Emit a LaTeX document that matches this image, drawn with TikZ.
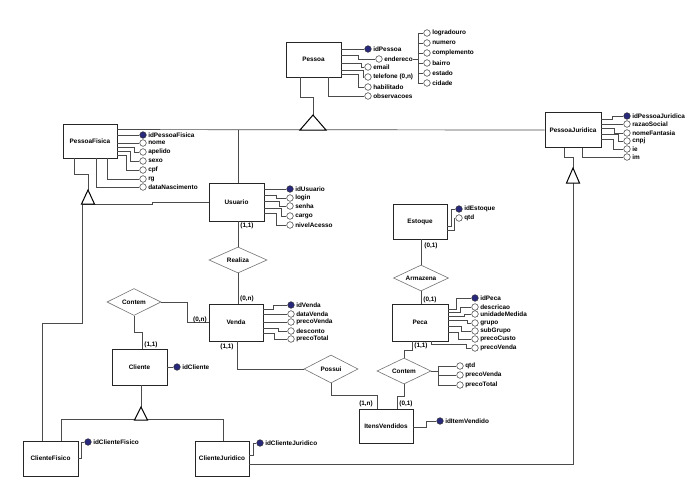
\documentclass[tikz,border=0pt]{standalone}
\usepackage{fontspec}
\setmainfont{Liberation Sans}
\usetikzlibrary{shapes.geometric,calc}
\definecolor{idblue}{RGB}{40,40,125}
\definecolor{lngray}{RGB}{75,75,75}
\newcommand\fs{\fontsize{6.4}{7}\selectfont\bfseries}
\tikzset{
 ent/.style={draw=black!85, line width=0.9pt, fill=white, inner sep=0, font=\fs},
 rel/.style={diamond, aspect=2, draw=black!55, line width=0.6pt, fill=white, inner sep=0, font=\fs},
 attr/.style={circle, draw=black!80, line width=0.5pt, fill=white, minimum size=6.6pt, inner sep=0},
 key/.style={attr, fill=idblue},
 ln/.style={draw=lngray, line width=0.7pt},
 card/.style={font=\fs, inner sep=0},
 gentri/.style={draw=black, line width=1pt, fill=white, line join=miter},
 every label/.style={font=\fs, inner sep=0.3pt},
}
\begin{document}
\begin{tikzpicture}[x=1pt,y=-1pt,label distance=1.2pt]
\useasboundingbox (0,0) rectangle (690,480);
% entities
\node[ent, minimum width=55pt, minimum height=35pt] (Pessoa) at (313.5,59.5) {Pessoa};
\node[ent, minimum width=54pt, minimum height=34pt] (PessoaFisica) at (90,141) {PessoaFisica};
\node[ent, minimum width=56pt, minimum height=35pt] (PessoaJuridica) at (573,130) {PessoaJuridica};
\node[ent, minimum width=55pt, minimum height=38pt] (Usuario) at (236.5,202) {Usuario};
\node[ent, minimum width=54pt, minimum height=35pt] (Estoque) at (420,221.5) {Estoque};
\node[ent, minimum width=54pt, minimum height=37pt] (Venda) at (236,322.5) {Venda};
\node[ent, minimum width=56pt, minimum height=37pt] (Peca) at (420,322.5) {Peca};
\node[ent, minimum width=55pt, minimum height=36pt] (Cliente) at (139.5,367) {Cliente};
\node[ent, minimum width=54pt, minimum height=34pt] (ItensVendidos) at (386,426) {ItensVendidos};
\node[ent, minimum width=55pt, minimum height=35pt] (ClienteFisico) at (50.5,458.5) {ClienteFisico};
\node[ent, minimum width=54pt, minimum height=35pt] (ClienteJuridico) at (222,458.5) {ClienteJuridico};
% relationships
\node[rel, minimum width=58pt, minimum height=26pt] (Realiza) at (238,260) {Realiza};
\node[rel, minimum width=54pt, minimum height=27pt] (Contem1) at (134,302) {Contem};
\node[rel, minimum width=54pt, minimum height=28pt] (Possui) at (331,369) {Possui};
\node[rel, minimum width=55pt, minimum height=26pt] (Armazena) at (421,278) {Armazena};
\node[rel, minimum width=54pt, minimum height=26pt] (Contem2) at (404,371) {Contem};
% generalisation triangles (coordinates)
\coordinate (tPa) at (313,115); \coordinate (tPb) at (313,130);
\coordinate (tFa) at (88,190); \coordinate (tFl) at (82,204);
\coordinate (tJa) at (573,168); \coordinate (tJb) at (573,183);
\coordinate (tCa) at (141,407);
% relationship connectors
\draw[ln] (Realiza.north |- Usuario.south) -- (Realiza.north);
\draw[ln] (Realiza.south) -- (Realiza.south |- Venda.north);
\draw[ln] (Contem1.east) -| (187,322.5) -- (Venda.west);
\draw[ln] (Contem1.south) |- (142,332) -- ($(Cliente.north)+(2.5,0)$);
\draw[ln] ($(Venda.south)+(1,0)$) |- (Possui.west);
\draw[ln] (Possui.south) |- ($(ItensVendidos.north)+(-9,-13)$) -- ($(ItensVendidos.north)+(-9,0)$);
\draw[ln] (Contem2.south) |- ($(ItensVendidos.north)+(11,-12)$) -- ($(ItensVendidos.north)+(11,0)$);
\draw[ln] (Contem2.north) |- ($(Peca.south)+(-8,9)$) -- ($(Peca.south)+(-8,0)$);
\draw[ln] (Armazena.north |- Estoque.south) -- (Armazena.north);
\draw[ln] (Armazena.south) -- (Armazena.south |- Peca.north);
% generalisation connectors
\draw[ln] ($(Pessoa.south)+(-13.5,0)$) |- ($(tPa)+(0,-18)$) -- (tPa);
\draw[ln] ($(PessoaFisica.north east)+(0,6)$) -- (PessoaJuridica.west);
\draw[ln] (Realiza.north |- tPb) -- (Realiza.north |- Usuario.north);
\draw[ln] ($(PessoaFisica.south)+(-16,0)$) |- ($(tFa)+(0,-16)$) -- (tFa);
\draw[ln] (tFl) -- (152,204) |- (Usuario.west);
\draw[ln] (tFl) |- (42,323) -- ($(ClienteFisico.north)+(-8.5,0)$);
\draw[ln] ($(PessoaJuridica.south)+(-9,0)$) |- ($(tJa)+(0,-11)$) -- (tJa);
\draw[ln] (tJb) |- ($(ClienteJuridico.east)+(0,6)$);
\draw[ln] ($(Cliente.south)+(1.5,0)$) -- (tCa);
\draw[ln] ($(ClienteFisico.north)+(10.5,0)$) |- ($(ClienteJuridico.north)+(1,-21)$) -- ($(ClienteJuridico.north)+(1,0)$);
% triangles
\draw[gentri] (tPa) -- ++(13,15) -- ++(-26,0) -- cycle;
\draw[gentri] (tFa) -- ++(6.5,14) -- ++(-13,0) -- cycle;
\draw[gentri] (tJa) -- ++(6.5,15) -- ++(-13,0) -- cycle;
\draw[gentri] (tCa) -- ++(6.5,13) -- ++(-13,0) -- cycle;
% cardinalities
\node[card] (c1) at (247,226) {(1,1)};
\node[card] (c2) at (247,299) {(0,n)};
\node[card] (c3) at (200,320) {(0,n)};
\node[card] (c4) at (227,347) {(1,1)};
\node[card] (c5) at (151,345) {(1,1)};
\node[card] (c6) at (366,404) {(1,n)};
\node[card] (c7) at (406,404) {(0,1)};
\node[card] (c8) at (421,346) {(1,1)};
\node[card] (c9) at (430,300) {(0,1)};
\node[card] (c10) at (431,246) {(0,1)};
% Pessoa attributes
\node[key,label=right:idPessoa] (aIdP) at (368,49) {};
\node[attr,label={[name=lEnd]right:endereco}] (aEnd) at (379,59) {};
\node[attr,label=right:email] (aEmail) at (368,67) {};
\node[attr,label=right:{telefone (0,n)}] (aTel) at (368,77) {};
\node[attr,label=right:habilitado] (aHab) at (368,87) {};
\node[attr,label=right:observacoes] (aObs) at (368,96) {};
\draw[ln] (Pessoa.east |- aIdP) -- (aIdP);
\draw[ln] (Pessoa.east |- 0,55) -- (358,55) |- (aEnd);
\draw[ln] (Pessoa.east |- 0,63) -- (361,63) |- (aEmail);
\draw[ln] (Pessoa.east |- 0,70) -- (363,70) |- (aTel);
\draw[ln] (Pessoa.east |- 0,74) -- (358,74) |- (aHab);
\draw[ln] (Pessoa.south -| 328,0) |- (aObs);
% endereco parts
\node[attr,label=right:logradouro] (aLog) at (427,33) {};
\node[attr,label=right:numero] (aNum) at (427,43) {};
\node[attr,label=right:complemento] (aComp) at (427,53) {};
\node[attr,label=right:bairro] (aBai) at (427,63) {};
\node[attr,label=right:estado] (aEst) at (427,73) {};
\node[attr,label=right:cidade] (aCid) at (427,83) {};
\coordinate (brE) at (418,59);
\draw[ln] (lEnd.east) -- (brE);
\draw[ln] (brE |- aLog) -- (brE |- aCid);
\foreach \nm in {aLog,aNum,aComp,aBai,aEst,aCid} \draw[ln] (brE |- \nm) -- (\nm);
% PessoaFisica attributes
\node[key,label=right:idPessoaFisica] (aIdPF) at (143,135) {};
\node[attr,label=right:nome] (aNome) at (143,143) {};
\node[attr,label=right:apelido] (aApel) at (143,152) {};
\node[attr,label=right:sexo] (aSexo) at (143,161) {};
\node[attr,label=right:cpf] (aCpf) at (143,170) {};
\node[attr,label=right:rg] (aRg) at (143,179) {};
\node[attr,label=right:dataNascimento] (aDN) at (143,187) {};
\draw[ln] (PessoaFisica.east |- aIdPF) -- (aIdPF);
\draw[ln] (PessoaFisica.east |- aNome) -- (aNome);
\draw[ln] (PessoaFisica.east |- 0,147) -- (134,147) |- (aApel);
\draw[ln] (PessoaFisica.east |- 0,151) -- (130,151) |- (aSexo);
\draw[ln] (PessoaFisica.east |- 0,155) -- (126,155) |- (aCpf);
\draw[ln] (PessoaFisica.south -| 107,0) |- (aRg);
\draw[ln] (PessoaFisica.south -| 96,0) |- (aDN);
% PessoaJuridica attributes
\node[key,label=right:idPessoaJuridica] (aIdPJ) at (627,116) {};
\node[attr,label=right:razaoSocial] (aRazao) at (627,124) {};
\node[attr,label=right:nomeFantasia] (aNF) at (627,133) {};
\node[attr,label=right:cnpj] (aCnpj) at (627,141) {};
\node[attr,label=right:ie] (aIe) at (627,149) {};
\node[attr,label=right:im] (aIm) at (627,157) {};
\draw[ln] (PessoaJuridica.east |- 0,119) -- (612,119) |- (aIdPJ);
\draw[ln] (PessoaJuridica.east |- aRazao) -- (aRazao);
\draw[ln] (PessoaJuridica.east |- 0,128) -- (614,128) |- (aNF);
\draw[ln] (PessoaJuridica.east |- 0,134) -- (618,134) |- (aCnpj);
\draw[ln] (PessoaJuridica.east |- 0,139) -- (613,139) |- (aIe);
\draw[ln] (PessoaJuridica.south -| 582,0) |- (aIm);
% Usuario attributes
\node[key,label=right:idUsuario] (aIdU) at (290,189) {};
\node[attr,label=right:login] (aLogin) at (290,198) {};
\node[attr,label=right:senha] (aSenha) at (290,206) {};
\node[attr,label=right:cargo] (aCargo) at (290,216) {};
\node[attr,label=right:nivelAcesso] (aNivel) at (290,225) {};
\draw[ln] (Usuario.east |- aIdU) -- (aIdU);
\draw[ln] (Usuario.east |- 0,195) -- (276,195) |- (aLogin);
\draw[ln] (Usuario.east |- 0,201) -- (279,201) |- (aSenha);
\draw[ln] (Usuario.east |- 0,208) -- (281,208) |- (aCargo);
\draw[ln] (Usuario.east |- 0,213) -- (276,213) |- (aNivel);
% Estoque attributes
\node[key,label=right:idEstoque] (aIdE) at (459,209) {};
\node[attr,label=right:qtd] (aQtdE) at (459,218) {};
\draw[ln] (Estoque.east |- 0,226) -- (451,226) |- (aIdE);
\draw[ln] (Estoque.east |- 0,230) -- (454,230) |- (aQtdE);
% Venda attributes
\node[key,label=right:idVenda] (aIdV) at (291,305) {};
\node[attr,label=right:dataVenda] (aDataV) at (291,314) {};
\node[attr,label=right:precoVenda] (aPVV) at (291,322) {};
\node[attr,label=right:desconto] (aDesc) at (291,331) {};
\node[attr,label=right:precoTotal] (aPTV) at (291,339) {};
\draw[ln] (Venda.east |- 0,309) -- (273,309) |- (aIdV);
\draw[ln] (Venda.east |- aDataV) -- (aDataV);
\draw[ln] (Venda.east |- aPVV) -- (aPVV);
\draw[ln] (Venda.east |- 0,328) -- (278,328) |- (aDesc);
\draw[ln] (Venda.east |- 0,333) -- (274,333) |- (aPTV);
% Peca attributes
\node[key,label=right:idPeca] (aIdPc) at (475,298) {};
\node[attr,label=right:descricao] (aDescr) at (475,307) {};
\node[attr,label=right:unidadeMedida] (aUM) at (475,314) {};
\node[attr,label=right:grupo] (aGrupo) at (475,323) {};
\node[attr,label=right:subGrupo] (aSubG) at (475,331) {};
\node[attr,label=right:precoCusto] (aPCusto) at (475,339) {};
\node[attr,label=right:precoVenda] (aPVPc) at (475,348) {};
\draw[ln] (Peca.east |- 0,309) -- (456,309) |- (aIdPc);
\draw[ln] (Peca.east |- 0,312) -- (460,312) |- (aDescr);
\draw[ln] (Peca.east |- 0,316) -- (464,316) |- (aUM);
\draw[ln] (Peca.east |- 0,320) -- (467,320) |- (aGrupo);
\draw[ln] (Peca.east |- 0,326) -- (461,326) |- (aSubG);
\draw[ln] (Peca.east |- 0,332) -- (458,332) |- (aPCusto);
\draw[ln] (Peca.south -| 431,0) |- (466,344) |- (aPVPc);
% Contem (right) attributes
\node[attr,label=right:qtd] (aQtdC) at (460,366) {};
\node[attr,label=right:precoVenda] (aPVC) at (460,375) {};
\node[attr,label=right:precoTotal] (aPTC) at (460,385) {};
\coordinate (brC) at (438,371);
\draw[ln] (Contem2.east) -- (brC);
\draw[ln] (brC |- aQtdC) -- (brC |- aPTC);
\foreach \nm in {aQtdC,aPVC,aPTC} \draw[ln] (brC |- \nm) -- (\nm);
% Cliente family attributes
\node[key,label=right:idCliente] (aIdC) at (177,367) {};
\draw[ln] (Cliente.east) -- (aIdC);
\node[key,label=right:idClienteFisico] (aIdCF) at (88,442) {};
\draw[ln] (ClienteFisico.east |- 0,458) -- (81,458) |- (aIdCF);
\node[key,label=right:idClienteJuridico] (aIdCJ) at (260,443) {};
\draw[ln] (ClienteJuridico.east |- 0,455) -- (253,455) |- (aIdCJ);
\node[key,label=right:idItemVendido] (aIdIV) at (440,421) {};
\draw[ln] (ItensVendidos.east |- 0,427) -- (426,427) |- (aIdIV);
\end{tikzpicture}
\end{document}
